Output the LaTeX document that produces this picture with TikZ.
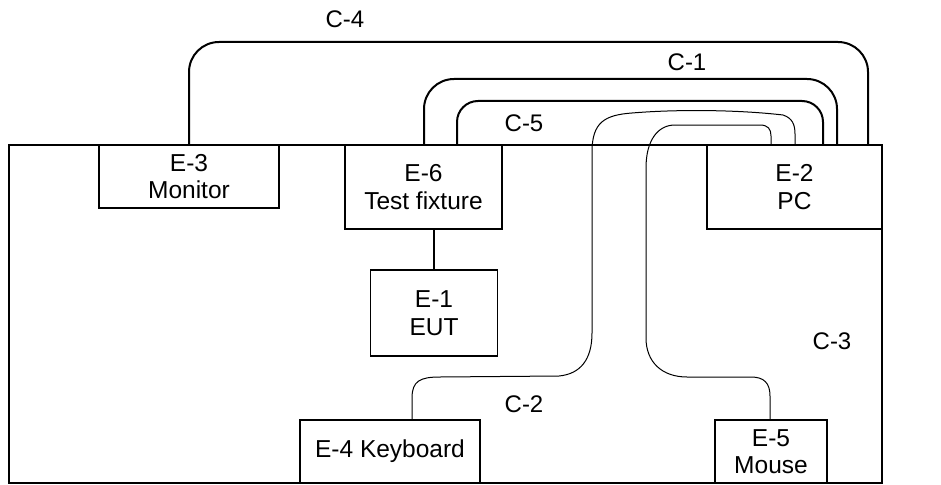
\documentclass[tikz,border=0pt]{standalone}
\usepackage{fontspec}
\setmainfont{Liberation Sans}
\begin{document}
\begin{tikzpicture}[x=1pt,y=-1pt,
  box/.style={draw, line width=1.6pt, fill=white, inner sep=0pt, align=center,
    font=\fontsize{24.5}{27.5}\selectfont},
  lbl/.style={inner sep=0pt, font=\fontsize{24}{27}\selectfont},
  thickcable/.style={line width=2pt, line cap=butt},
  thincable/.style={line width=1pt}]
\useasboundingbox (0,0) rectangle (941,484);
% table
\node[draw, line width=1.6pt, minimum width=873pt, minimum height=338pt, inner sep=0pt] (table) at (445.5,314) {};
% equipment
\node[box, minimum width=180pt, minimum height=63pt] (E3) at (189,176.5) {E-3\\Monitor};
\node[box, minimum width=157pt, minimum height=84pt] (E6) at (423.5,187) {E-6\\Test fixture};
\node[box, minimum width=175pt, minimum height=84pt] (E2) at (794.5,187) {E-2\\PC};
\node[box, minimum width=127pt, minimum height=86pt] (E1) at (434,313) {E-1\\EUT};
\node[box, minimum width=180pt, minimum height=63pt] (E4) at (390,451.5) {E-4 Keyboard};
\node[box, minimum width=112pt, minimum height=63pt] (E5) at (771,451.5) {E-5\\Mouse};
% cable end points on the PC and test fixture
\coordinate (c4b) at (868,145);
\coordinate (c1a) at (424,145);
\coordinate (c1b) at (837,145);
\coordinate (c5a) at (457,145);
\coordinate (c5b) at (823,145);
\coordinate (c2b) at (795,145);
\coordinate (c3b) at (771,145);
\coordinate (c2a) at (412,420);
\coordinate (c3a) at (770,420);
% thick cables
\draw[thickcable, rounded corners=30pt] (E3.north) -- (189,42) -- (868,42) -- (c4b);
\draw[thickcable, rounded corners=30pt] (c1a) -- (424,79) -- (837,79) -- (c1b);
\draw[thickcable, rounded corners=21pt] (c5a) -- (457,101) -- (823,101) -- (c5b);
% E-6 to E-1
\draw[line width=1.4pt] (E1.north) -- (E1.north |- E6.south);
% keyboard cable
\draw[thincable] (c2a) -- (412,398) .. controls (412,381) and (420,377) .. (440,377)
  -- (559,376) .. controls (580,374) and (592,360) .. (592,333)
  -- (592,152) .. controls (592,122) and (605,115) .. (632,113)
  .. controls (680,109) and (740,110) .. (783,115)
  .. controls (792,118) and (795,124) .. (795,134) -- (c2b);
% mouse cable
\draw[thincable] (c3a) -- (770,396) .. controls (770,383) and (764,377) .. (751,377)
  -- (687,377) .. controls (662,377) and (646,362) .. (646,338)
  -- (646,168) .. controls (646,140) and (658,125) .. (675,125)
  -- (760,125) .. controls (768,125) and (771,129) .. (771,136) -- (c3b);
% labels
\node[lbl] (L4) at (345,19) {C-4};
\node[lbl] (L1) at (687,62) {C-1};
\node[lbl] (L5) at (524,123) {C-5};
\node[lbl] (L2) at (524,404) {C-2};
\node[lbl] (L3) at (832,341) {C-3};
\end{tikzpicture}
\end{document}
